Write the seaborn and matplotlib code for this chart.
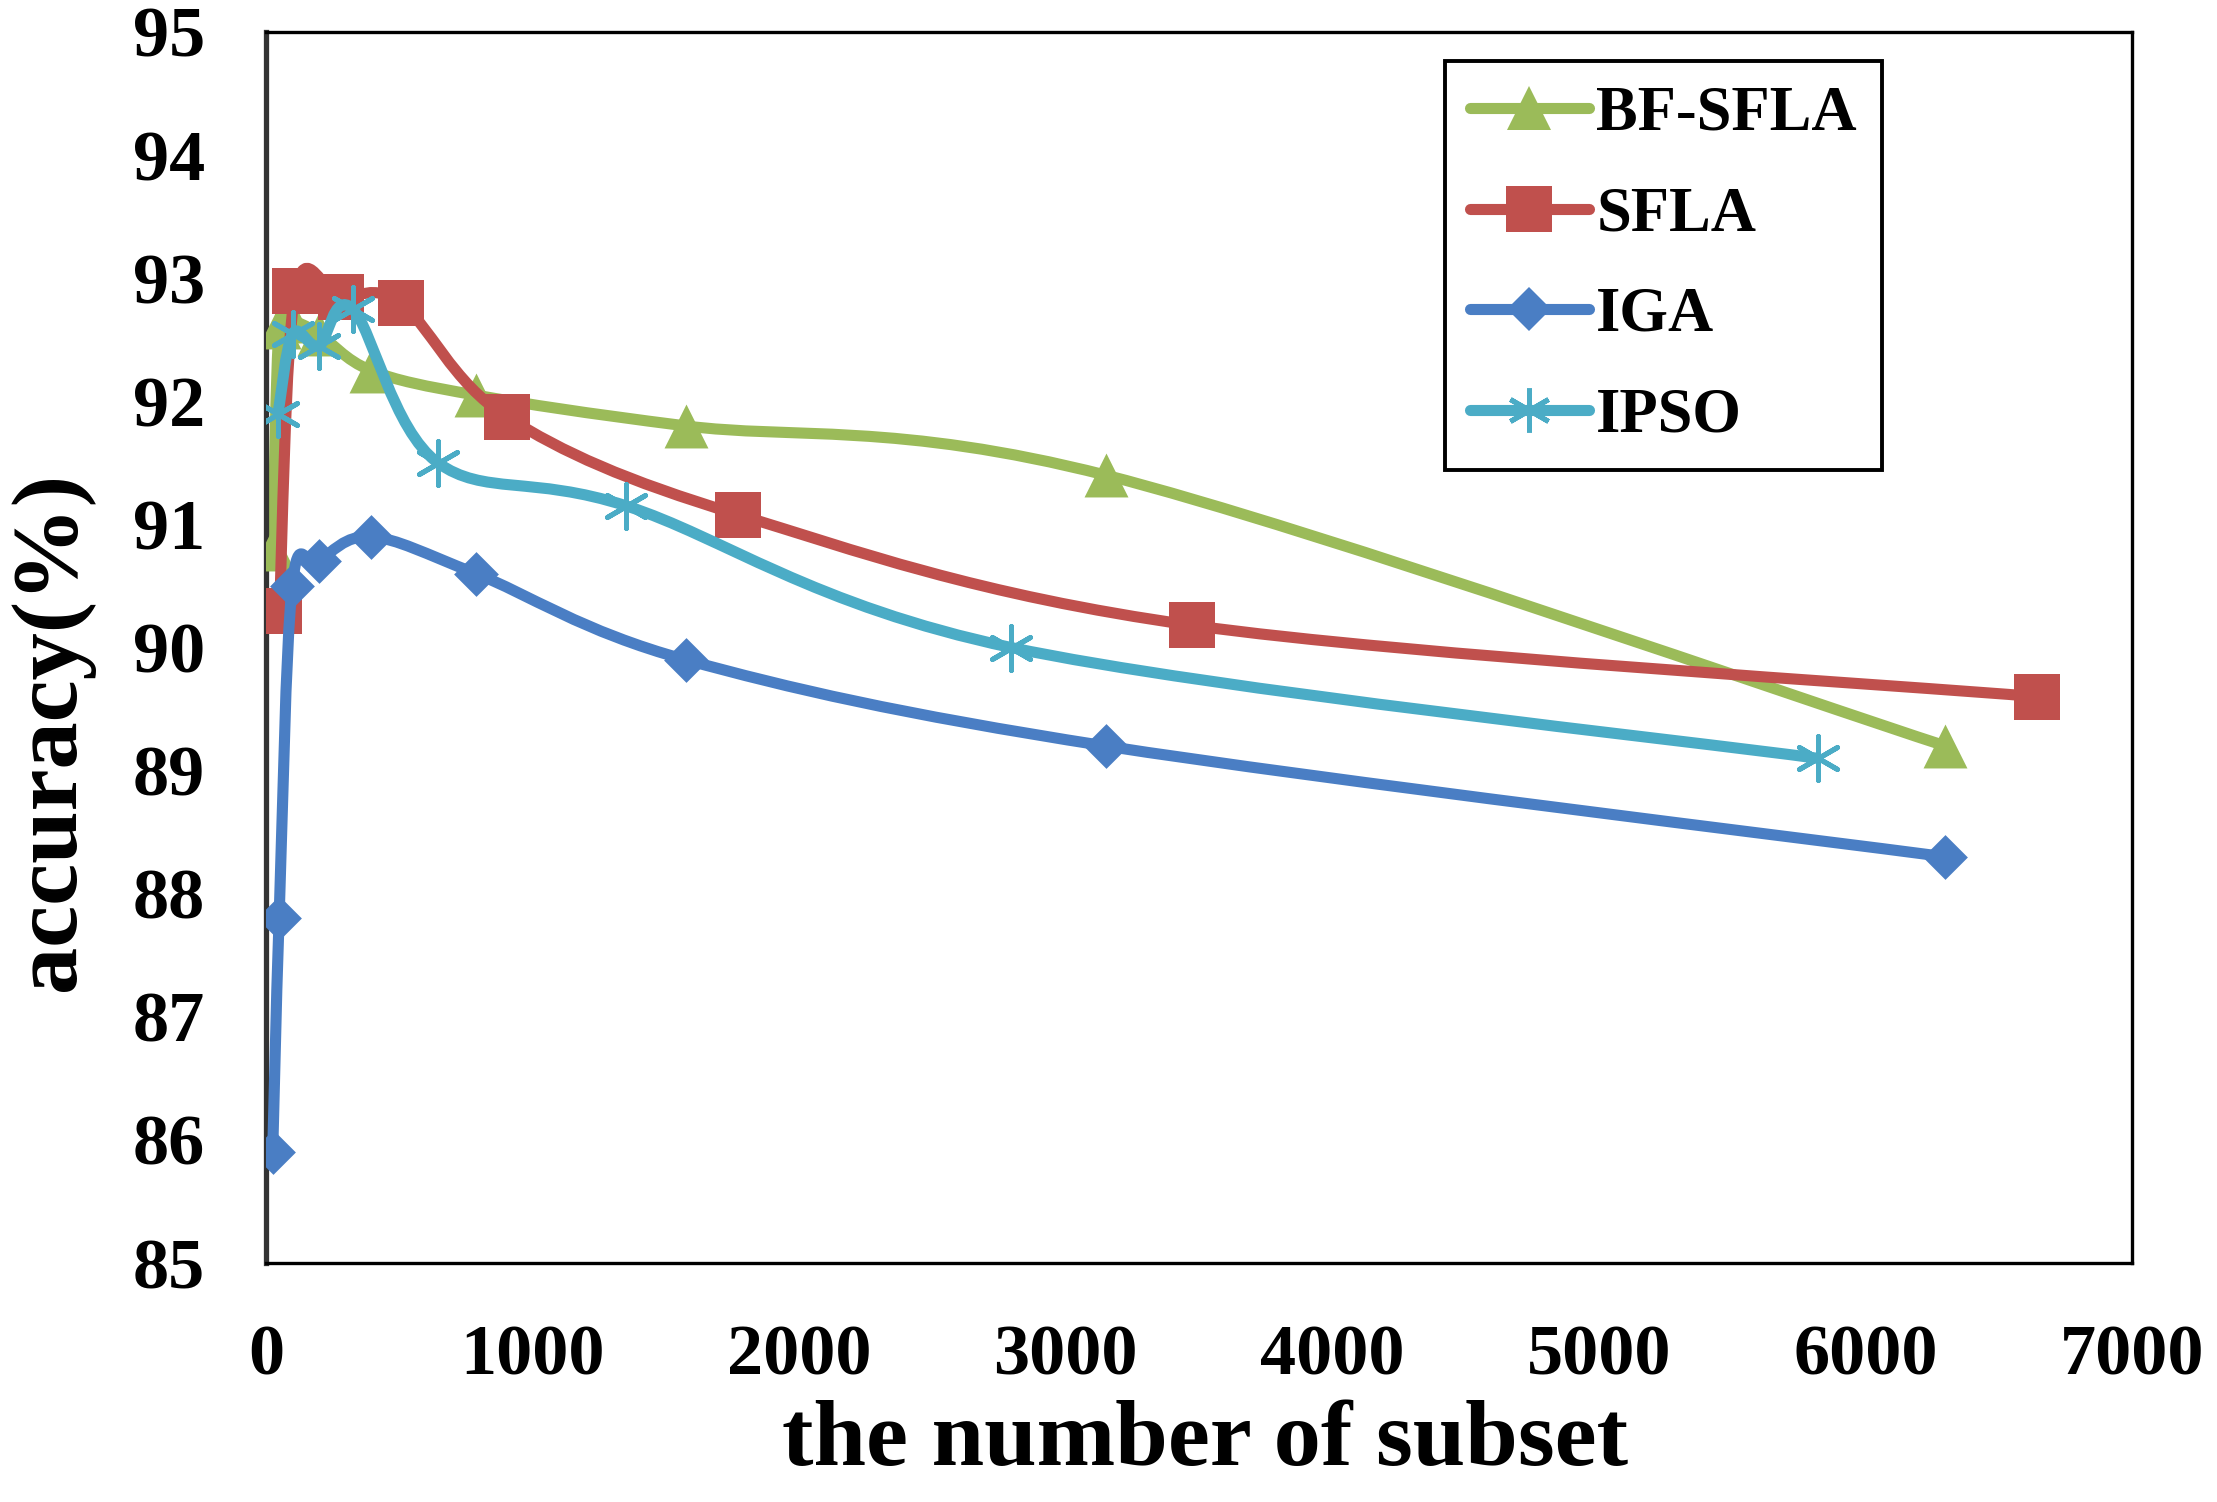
import matplotlib
matplotlib.use("Agg")
import matplotlib.pyplot as plt
from matplotlib.path import Path
from matplotlib.patches import PathPatch
from matplotlib.lines import Line2D
import numpy as np
import pandas as pd
import seaborn as sns

# values
series_names = ["BF-SFLA", "SFLA", "IGA", "IPSO"]

bfsfla_x = [25, 49, 98, 197, 394, 788, 1575, 3150, 6300]
bfsfla_y = [90.8, 92.6, 92.65, 92.55, 92.25, 92.05, 91.8, 91.4, 89.2]

sfla_x = [50, 110, 280, 505, 905, 1770, 3475, 6645]
sfla_y = [90.3, 92.9, 92.85, 92.8, 91.87, 91.08, 90.18, 89.6]

iga_x = [25, 49, 98, 197, 394, 788, 1575, 3150, 6300]
iga_y = [85.9, 87.8, 90.5, 90.7, 90.9, 90.6, 89.9, 89.2, 88.3]

ipso_x = [45, 100, 198, 325, 645, 1352, 2795, 5820]
ipso_y = [91.9, 92.55, 92.45, 92.75, 91.5, 91.15, 90.0, 89.1]

x_ticks = [0, 1000, 2000, 3000, 4000, 5000, 6000, 7000]
y_ticks = [85, 86, 87, 88, 89, 90, 91, 92, 93, 94, 95]

df = pd.concat([
    pd.DataFrame({"subset": bfsfla_x, "accuracy": bfsfla_y, "method": "BF-SFLA"}),
    pd.DataFrame({"subset": sfla_x, "accuracy": sfla_y, "method": "SFLA"}),
    pd.DataFrame({"subset": iga_x, "accuracy": iga_y, "method": "IGA"}),
    pd.DataFrame({"subset": ipso_x, "accuracy": ipso_y, "method": "IPSO"}),
])

colors = {"BF-SFLA": "#9BBB59", "SFLA": "#C0504D", "IGA": "#4A7EC4", "IPSO": "#4BACC6"}
markers = {"BF-SFLA": "^", "SFLA": "s", "IGA": "D", "IPSO": (6, 2, 0)}
sizes = {"BF-SFLA": 1000, "SFLA": 1050, "IGA": 520, "IPSO": 1000}

sns.set_style("white")
plt.rcParams["font.family"] = ["Liberation Serif", "DejaVu Serif"]
plt.rcParams["font.weight"] = "bold"
plt.rcParams["text.color"] = "black"
plt.rcParams["axes.labelcolor"] = "black"
plt.rcParams["xtick.color"] = "black"
plt.rcParams["ytick.color"] = "black"

fig = plt.figure(figsize=(22.17, 15.02), dpi=100)
ax = fig.add_axes([0.12, 0.1591, 0.8417, 0.8196])
ax.set_xlim(0, 7000)
ax.set_ylim(85, 95)

W, H = 1866.0, 1231.0  # axes size in pixels, used for the excel-like smoothing


def smooth_path(xs, ys):
    sx, sy = W / 7000.0, H / 10.0
    P = np.column_stack([np.asarray(xs, float) * sx, (np.asarray(ys, float) - 85) * sy])
    n = len(P)
    verts = [P[0]]
    codes = [Path.MOVETO]
    for i in range(n - 1):
        p0 = P[i - 1] if i > 0 else P[i]
        p1, p2 = P[i], P[i + 1]
        p3 = P[i + 2] if i + 2 < n else P[i + 1]
        verts += [p1 + (p2 - p0) / 6.0, p2 - (p3 - p1) / 6.0, p2]
        codes += [Path.CURVE4] * 3
    V = np.array(verts)
    V[:, 0] /= sx
    V[:, 1] = V[:, 1] / sy + 85
    return Path(V, codes)


lw = 8.0
z = 2
for name in series_names:
    d = df[df["method"] == name]
    c = colors[name]
    ax.add_patch(PathPatch(smooth_path(d["subset"], d["accuracy"]), fill=False,
                           edgecolor=c, lw=lw, capstyle="round", joinstyle="round", zorder=z))
    if name == "IPSO":
        sns.scatterplot(data=d, x="subset", y="accuracy", ax=ax, marker=markers[name],
                        s=sizes[name], color=c, linewidth=3.6, legend=False, zorder=z + 1)
    else:
        sns.scatterplot(data=d, x="subset", y="accuracy", ax=ax, marker=markers[name],
                        s=sizes[name], color=c, edgecolor=c, linewidth=0, legend=False,
                        zorder=z + 1)
    z += 2

ax.set_xticks(x_ticks)
ax.set_yticks(y_ticks)
ax.tick_params(axis="both", direction="out", length=14, width=2.2, labelsize=52,
               pad=30, color="black", labelcolor="black")

for side in ["top", "right", "bottom"]:
    ax.spines[side].set_color("black")
    ax.spines[side].set_linewidth(2.4)
ax.spines["left"].set_color("#333333")
ax.spines["left"].set_linewidth(3.8)

ax.set_xlabel("the number of subset", fontsize=68, fontweight="bold", color="black")
ax.set_ylabel("accuracy(%)", fontsize=68, fontweight="bold", color="black")
ax.xaxis.set_label_coords(0.503, -0.111)
ax.yaxis.set_label_coords(-0.092, 0.432)

handles = []
for name in series_names:
    c = colors[name]
    handles.append(Line2D([], [], color=c, lw=lw, marker=markers[name],
                          markersize=np.sqrt(sizes[name]), mfc=c, mec=c,
                          mew=3.6 if name == "IPSO" else 0))
leg = ax.legend(handles, series_names, loc="upper left", bbox_to_anchor=(0.6518, 0.9594),
                bbox_transform=fig.transFigure, prop={"size": 45, "weight": "bold"},
                frameon=True, fancybox=False, framealpha=1, edgecolor="black",
                handlelength=1.9, handletextpad=0.12, labelspacing=0.68, borderpad=0.4,
                borderaxespad=0)
leg.get_frame().set_linewidth(2.8)
for t in leg.get_texts():
    t.set_color("black")

fig.savefig("out.png", dpi=100)
